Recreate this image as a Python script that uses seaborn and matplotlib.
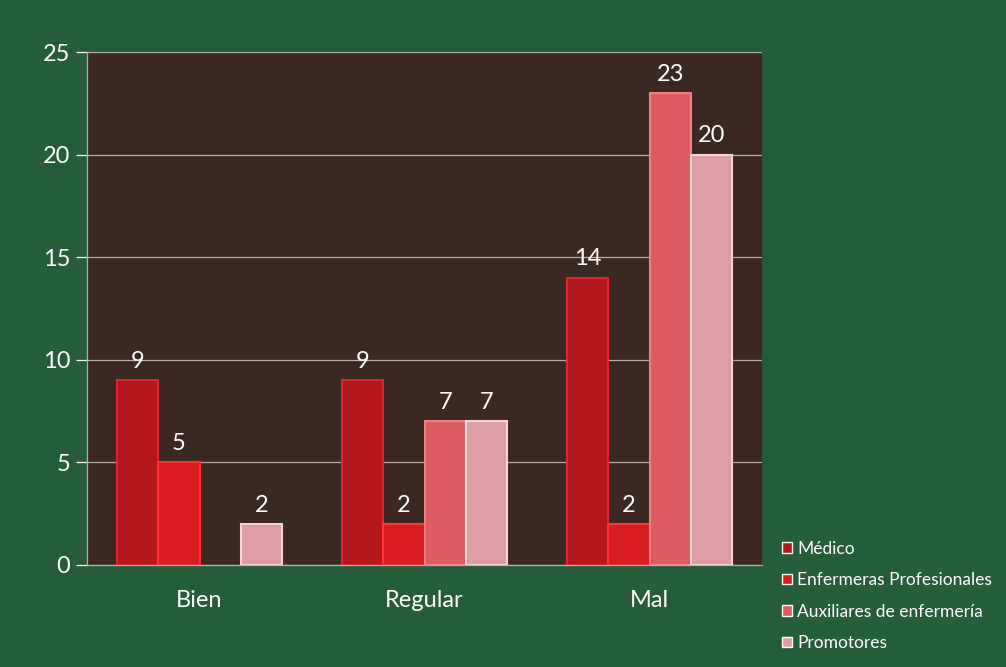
import numpy as np
import pandas as pd
import matplotlib.pyplot as plt
import seaborn as sns

# --- datos ---
categorias = ['Bien', 'Regular', 'Mal']
grupos = ['Médico', 'Enfermeras Profesionales', 'Auxiliares de enfermería', 'Promotores']
medico = [9, 9, 14]
enfermeras = [5, 2, 2]
auxiliares = [np.nan, 7, 23]
promotores = [2, 7, 20]
yticks = [0, 5, 10, 15, 20, 25]

colores = ['#b3161c', '#d91b22', '#dc5c60', '#dc9ea2']
bordes = ['#e0262c', '#ff3036', '#f08080', '#f6d4d6']

df = pd.DataFrame({
    'categoria': categorias * 4,
    'grupo': [g for g in grupos for _ in categorias],
    'valor': medico + enfermeras + auxiliares + promotores,
})

sns.set_theme(style='dark')
plt.rcParams['font.family'] = ['Lato', 'DejaVu Sans']

fig = plt.figure(figsize=(10.06, 6.67), dpi=100)
fig.patch.set_facecolor('#255d38')
ax = fig.add_axes([0.0865, 0.153, 0.671, 0.769])
ax.set_facecolor('#3b2821')

sns.barplot(data=df, x='categoria', y='valor', hue='grupo', order=categorias,
            hue_order=grupos, palette=colores, saturation=1, width=0.735,
            ax=ax, zorder=3)

for cont, borde in zip(ax.containers, bordes):
    for barra in cont:
        barra.set_edgecolor(borde)
        barra.set_linewidth(1.5)
    ax.bar_label(cont, fmt='%g', color='white', fontsize=17, padding=6)

ax.set_ylim(0, 25)
ax.set_yticks(yticks)
ax.grid(axis='y', color='#b5b0a8', linewidth=0.9, zorder=1)
ax.grid(axis='x', visible=False)
ax.set_xlabel('')
ax.set_ylabel('')
ax.tick_params(axis='y', colors='white', labelsize=17, length=8, width=0.9,
               left=True, pad=4)
ax.tick_params(axis='x', colors='white', labelsize=17, length=0, pad=18)
for lab in ax.get_yticklabels() + ax.get_xticklabels():
    lab.set_color('white')
for s in ['top', 'right']:
    ax.spines[s].set_visible(False)
for s in ['left', 'bottom']:
    ax.spines[s].set_color('#b5b0a8')
    ax.spines[s].set_linewidth(0.9)

leg = ax.legend(loc='lower left', bbox_to_anchor=(0.762, 0.0), bbox_transform=fig.transFigure,
                frameon=False, fontsize=12.5, handlelength=0.55, handleheight=0.55,
                handletextpad=0.3, labelspacing=0.9)
for t in leg.get_texts():
    t.set_color('white')

fig.savefig('out.png', dpi=100, facecolor=fig.get_facecolor())
